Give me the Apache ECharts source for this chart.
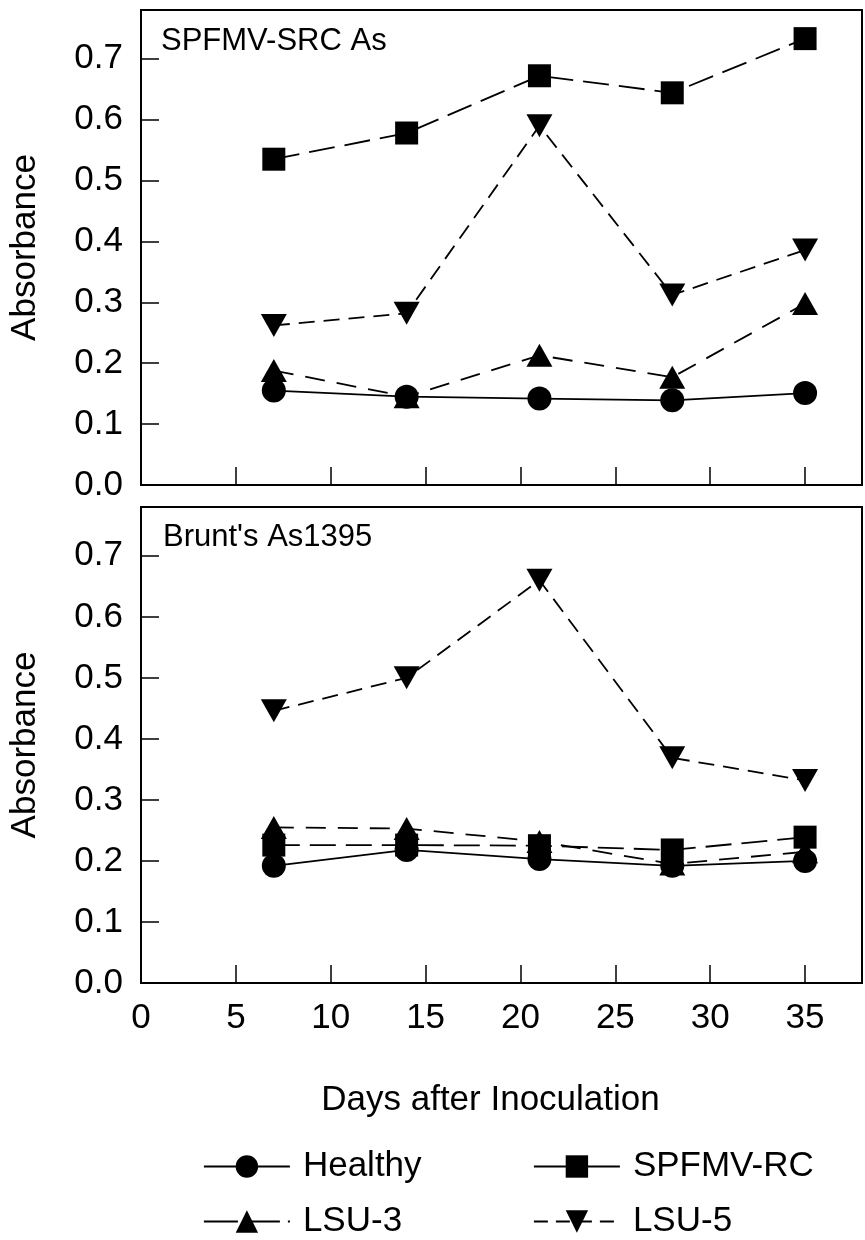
<!DOCTYPE html>
<html>
<head>
<meta charset="utf-8">
<script src="https://cdn.jsdelivr.net/npm/echarts@6/dist/echarts.min.js"></script>
<style>
  html, body { margin: 0; padding: 0; background: #fff; }
  #chart { width: 865px; height: 1240px; }
</style>
</head>
<body>
<div id="chart"></div>
<script>
// days after inoculation
var days = [7, 14, 21, 28, 35];
var xTicks = [0, 5, 10, 15, 20, 25, 30, 35];

// top panel: SPFMV-SRC As
var healthyTop = [0.155, 0.145, 0.142, 0.139, 0.151];
var rcTop = [0.535, 0.578, 0.672, 0.644, 0.733];
var lsu3Top = [0.188, 0.145, 0.213, 0.177, 0.298];
var lsu5Top = [0.262, 0.282, 0.590, 0.312, 0.386];

// bottom panel: Brunt's As1395
var healthyBot = [0.192, 0.218, 0.203, 0.192, 0.200];
var rcBot = [0.226, 0.226, 0.225, 0.218, 0.239];
var lsu3Bot = [0.255, 0.253, 0.232, 0.195, 0.215];
var lsu5Bot = [0.446, 0.500, 0.660, 0.369, 0.332];

var FONT = 'Liberation Sans';

function pairs(ys) {
    var out = [];
    for (var i = 0; i < days.length; i++) out.push([days[i], ys[i]]);
    return out;
}

// series look (same in both panels)
var looks = {
    'Healthy':  { symbol: 'circle',   size: 24, rot: 0,   dash: 'solid' },
    'SPFMV-RC': { symbol: 'rect',     size: 23, rot: 0,   dash: [26, 10] },
    'LSU-3':    { symbol: 'triangle', size: [26, 23], rot: 0,   dash: [20, 12] },
    'LSU-5':    { symbol: 'triangle', size: [26, 23], rot: 180, dash: [16, 9] }
};

function makeSeries(name, ys, idx) {
    var lk = looks[name];
    return {
        name: name,
        type: 'line',
        xAxisIndex: idx,
        yAxisIndex: idx,
        data: pairs(ys),
        symbol: lk.symbol,
        symbolSize: lk.size,
        symbolRotate: lk.rot,
        showAllSymbol: true,
        itemStyle: { color: '#000' },
        lineStyle: { color: '#000', width: 1.8, type: lk.dash },
        emphasis: { disabled: true },
        animation: false
    };
}

function xAxis(idx, showLabels) {
    return {
        type: 'value',
        gridIndex: idx,
        min: 0, max: 38, interval: 5,
        axisLine: { show: true, lineStyle: { color: '#000', width: 2 } },
        axisTick: { show: true, inside: true, length: 18, lineStyle: { color: '#000', width: 1.5 } },
        axisLabel: {
            show: showLabels, margin: 18, showMaxLabel: false,
            color: '#000', fontFamily: FONT, fontSize: 35,
            formatter: function (v) { return xTicks.indexOf(v) >= 0 ? String(v) : ''; }
        },
        splitLine: { show: false },
        name: showLabels ? 'Days after Inoculation' : '',
        nameLocation: 'middle',
        nameGap: 100,
        // nudge the title a bit left, like the original
        nameTextStyle: { color: '#000', fontFamily: FONT, fontSize: 35, padding: [0, 22, 0, 0] }
    };
}

function yAxis(idx) {
    return {
        type: 'value',
        gridIndex: idx,
        min: 0, max: 0.78, interval: 0.1,
        axisLine: { show: true, lineStyle: { color: '#000', width: 2 } },
        axisTick: { show: true, inside: true, length: 18, lineStyle: { color: '#000', width: 1.5 } },
        axisLabel: {
            margin: 18, showMaxLabel: false,
            color: '#000', fontFamily: FONT, fontSize: 35,
            formatter: function (v) { return v.toFixed(1); }
        },
        splitLine: { show: false },
        name: 'Absorbance',
        nameLocation: 'middle',
        nameRotate: 90,
        nameGap: 98,
        nameTextStyle: { color: '#000', fontFamily: FONT, fontSize: 35 }
    };
}

function legendAt(name, left, top, dash) {
    return {
        data: [name],
        left: left, top: top,
        itemWidth: 86, itemHeight: 28, itemGap: 0,
        selectedMode: false,
        lineStyle: { type: dash, width: 1.8 },
        textStyle: { color: '#000', fontFamily: FONT, fontSize: 35, padding: [0, 0, 0, 8] }
    };
}

var chart = echarts.init(document.getElementById('chart'));

var option = {
    backgroundColor: '#fff',
    animation: false,
    title: [
        { text: 'SPFMV-SRC As', left: 156, top: 21,
          textStyle: { color: '#000', fontFamily: FONT, fontSize: 31, fontWeight: 'normal' } },
        { text: "Brunt's As1395", left: 158, top: 517,
          textStyle: { color: '#000', fontFamily: FONT, fontSize: 31, fontWeight: 'normal' } }
    ],
    grid: [
        { left: 140, top: 10, width: 722, height: 475, show: true, borderColor: '#000', borderWidth: 2 },
        { left: 140, top: 507, width: 722, height: 476, show: true, borderColor: '#000', borderWidth: 2 }
    ],
    xAxis: [xAxis(0, false), xAxis(1, true)],
    yAxis: [yAxis(0), yAxis(1)],
    legend: [
        legendAt('Healthy', 198, 1144, 'solid'),
        legendAt('SPFMV-RC', 528, 1144, 'solid'),
        legendAt('LSU-3', 198, 1199, [34, 8]),
        legendAt('LSU-5', 528, 1199, [14, 8])
    ],
    series: [
        makeSeries('Healthy', healthyTop, 0),
        makeSeries('SPFMV-RC', rcTop, 0),
        makeSeries('LSU-3', lsu3Top, 0),
        makeSeries('LSU-5', lsu5Top, 0),
        makeSeries('Healthy', healthyBot, 1),
        makeSeries('SPFMV-RC', rcBot, 1),
        makeSeries('LSU-3', lsu3Bot, 1),
        makeSeries('LSU-5', lsu5Bot, 1)
    ]
};

chart.setOption(option);
</script>
</body>
</html>
